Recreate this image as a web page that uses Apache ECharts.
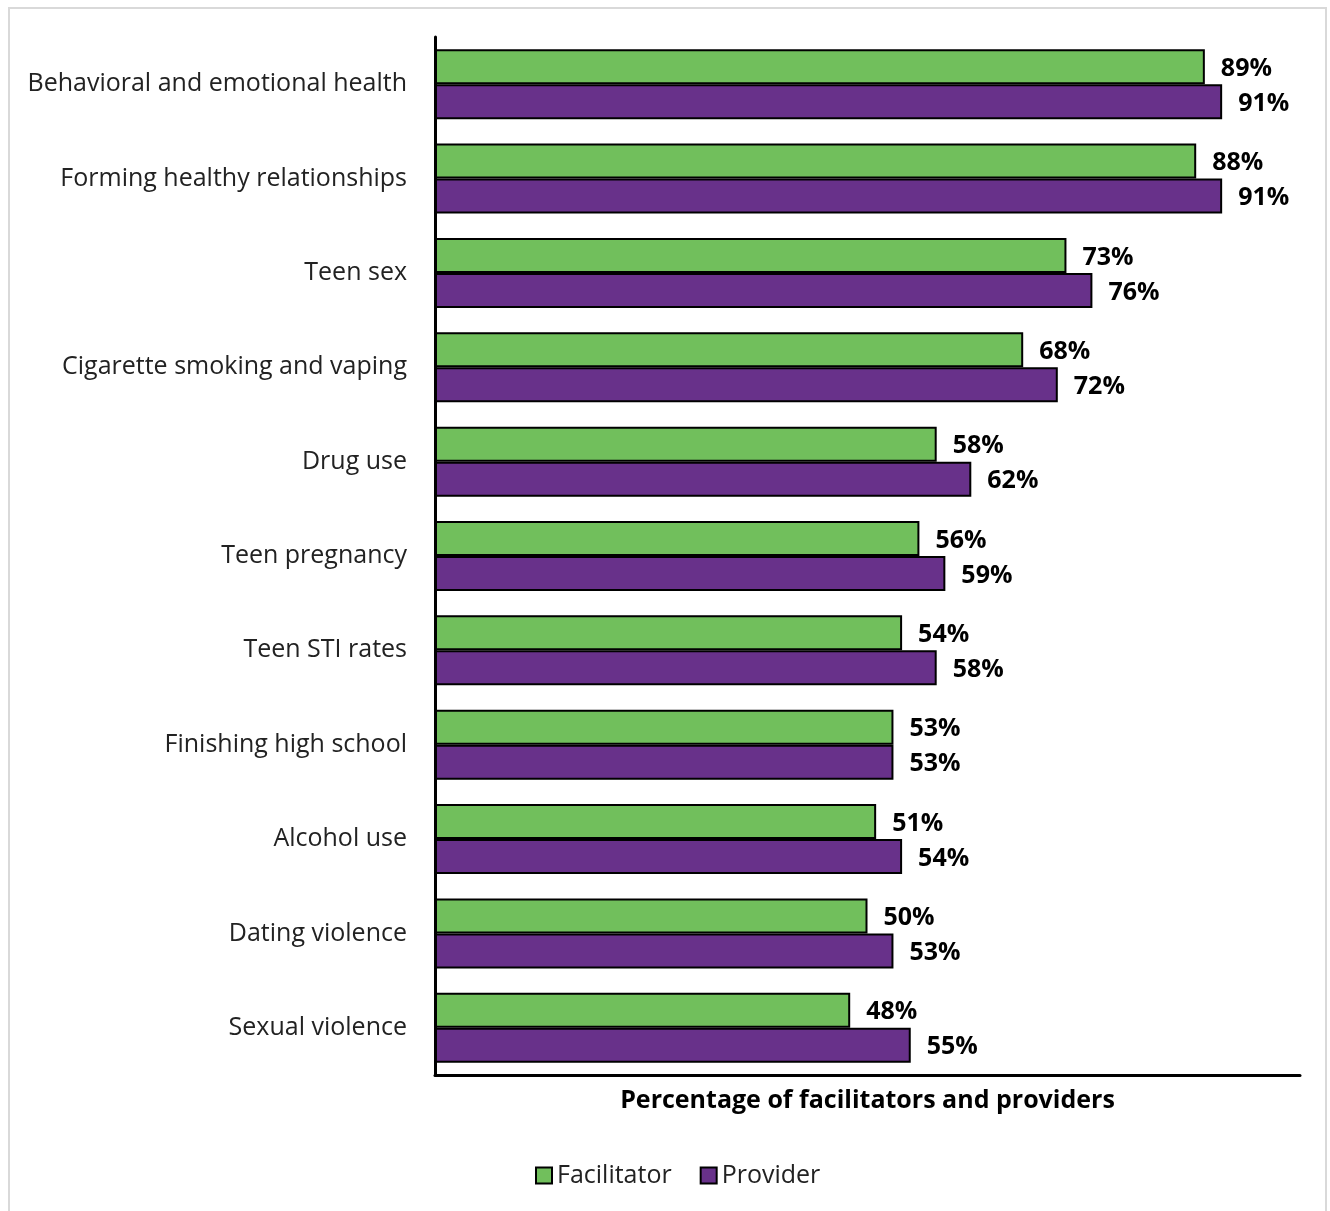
<!DOCTYPE html>
<html>
<head>
<meta charset="utf-8">
<script src="https://cdn.jsdelivr.net/npm/echarts@6/dist/echarts.min.js"></script>
<style>
  html, body { margin: 0; padding: 0; background: #fff; }
  #frame { position: absolute; left: 8px; top: 7px; width: 1319px; height: 1210px; border: 2px solid #d9d9d9; box-sizing: border-box; }
  #chart { position: absolute; left: 0; top: 0; width: 1330px; height: 1211px; }
</style>
</head>
<body>
<div id="frame"></div>
<div id="chart"></div>
<script>
// Topics, top to bottom
const topics = [
  'Behavioral and emotional health',
  'Forming healthy relationships',
  'Teen sex',
  'Cigarette smoking and vaping',
  'Drug use',
  'Teen pregnancy',
  'Teen STI rates',
  'Finishing high school',
  'Alcohol use',
  'Dating violence',
  'Sexual violence'
];
// Percent of respondents, by role
const facilitator = [89, 88, 73, 68, 58, 56, 54, 53, 51, 50, 48];
const provider = [91, 91, 76, 72, 62, 59, 58, 53, 54, 53, 55];

const FONT = '"Open Sans", "Noto Sans", sans-serif';
const chart = echarts.init(document.getElementById('chart'));

const labelStyle = {
  show: true,
  position: 'right',
  distance: 16,
  formatter: p => p.value + '%',
  color: '#000',
  fontFamily: FONT,
  fontWeight: 'bold',
  fontSize: 25,
  offset: [0, 2]
};

chart.setOption({
  animation: false,
  grid: { left: 435, right: 30, top: 37, bottom: 136 },
  legend: {
    bottom: 18,
    left: 530,
    itemWidth: 16,
    itemHeight: 16,
    itemGap: 28,
    textStyle: { fontFamily: FONT, fontSize: 25, color: '#222' },
    data: [
      { name: 'Facilitator', icon: 'rect', itemStyle: { borderColor: '#000', borderWidth: 2 } },
      { name: 'Provider', icon: 'rect', itemStyle: { borderColor: '#000', borderWidth: 2 } }
    ]
  },
  xAxis: {
    type: 'value',
    min: 0,
    max: 100,
    axisLine: { show: true, lineStyle: { color: '#000', width: 3 } },
    axisTick: { show: false },
    axisLabel: { show: false },
    splitLine: { show: false },
    name: 'Percentage of facilitators and providers',
    nameLocation: 'middle',
    nameGap: 13,
    nameTextStyle: { fontFamily: FONT, fontWeight: 'bold', fontSize: 25, color: '#000' }
  },
  yAxis: {
    type: 'category',
    inverse: true,
    data: topics,
    axisLine: { show: true, lineStyle: { color: '#000', width: 3 } },
    axisTick: { show: false },
    axisLabel: { margin: 28, fontFamily: FONT, fontSize: 25, color: '#222' }
  },
  series: [
    {
      name: 'Facilitator',
      type: 'bar',
      data: facilitator,
      barWidth: 35,
      barGap: '0%',
      itemStyle: { color: '#71BF5C', borderColor: '#000', borderWidth: 2 },
      label: labelStyle
    },
    {
      name: 'Provider',
      type: 'bar',
      data: provider,
      barWidth: 35,
      barGap: '0%',
      itemStyle: { color: '#68318A', borderColor: '#000', borderWidth: 2 },
      label: labelStyle
    }
  ]
});
</script>
</body>
</html>
